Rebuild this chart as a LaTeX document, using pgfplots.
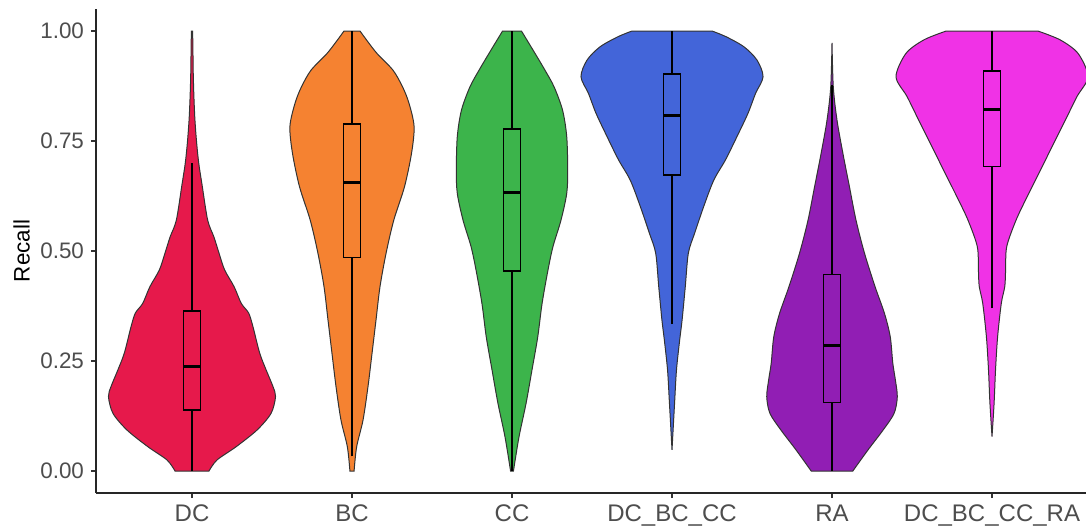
\documentclass[border=0pt]{standalone}
\usepackage{fontspec}
\setmainfont{Liberation Sans}
\usepackage{pgfplots}
\usepackage{pgfplotstable}
\pgfplotsset{compat=1.18}
\usepgfplotslibrary{fillbetween}

\definecolor{cDC}{HTML}{E6194B}
\definecolor{cBC}{HTML}{F58231}
\definecolor{cCC}{HTML}{3CB44B}
\definecolor{cDBC}{HTML}{4365D9}
\definecolor{cRA}{HTML}{911EB4}
\definecolor{cALL}{HTML}{F032E6}
\definecolor{tickgray}{HTML}{4D4D4D}
\definecolor{vline}{HTML}{333333}

% violin half-widths (w, in category units) against Recall (y)
\pgfplotstableread{
y w
0.000 0.106
0.025 0.156
0.055 0.275
0.093 0.406
0.131 0.494
0.169 0.522
0.192 0.506
0.230 0.463
0.268 0.423
0.328 0.381
0.359 0.354
0.381 0.308
0.419 0.263
0.457 0.204
0.495 0.169
0.532 0.137
0.570 0.098
0.650 0.063
0.700 0.042
0.750 0.028
0.800 0.018
0.850 0.012
0.900 0.008
0.950 0.006
1.000 0.004
}\tDC

\pgfplotstableread{
y w
0.000 0.013
0.055 0.029
0.116 0.069
0.192 0.100
0.267 0.125
0.343 0.150
0.419 0.175
0.495 0.213
0.570 0.261
0.646 0.328
0.722 0.372
0.783 0.388
0.836 0.356
0.873 0.316
0.911 0.256
0.949 0.156
0.980 0.090
1.000 0.050
}\tBC

\pgfplotstableread{
y w
0.000 0.009
0.078 0.044
0.154 0.088
0.230 0.125
0.305 0.161
0.381 0.188
0.457 0.225
0.510 0.256
0.570 0.306
0.631 0.342
0.684 0.348
0.760 0.342
0.820 0.316
0.873 0.263
0.911 0.206
0.949 0.144
1.000 0.059
}\tCC

\pgfplotstableread{
y w
0.048 0.000
0.154 0.016
0.230 0.028
0.298 0.048
0.343 0.063
0.419 0.083
0.495 0.102
0.540 0.141
0.601 0.198
0.661 0.261
0.707 0.334
0.760 0.406
0.813 0.475
0.858 0.522
0.896 0.569
0.934 0.531
0.964 0.450
0.987 0.338
1.000 0.250
}\tDBC

\pgfplotstableread{
y w
0.000 0.130
0.048 0.225
0.093 0.319
0.131 0.388
0.169 0.408
0.207 0.396
0.245 0.380
0.305 0.364
0.358 0.328
0.419 0.269
0.495 0.203
0.570 0.150
0.646 0.109
0.722 0.068
0.798 0.031
0.873 0.008
0.973 0.000
}\tRA

\pgfplotstableread{
y w
0.078 0.000
0.154 0.013
0.230 0.022
0.305 0.035
0.381 0.058
0.420 0.080
0.457 0.085
0.510 0.092
0.570 0.150
0.623 0.219
0.684 0.303
0.737 0.375
0.798 0.459
0.851 0.531
0.896 0.600
0.949 0.538
0.980 0.425
1.000 0.286
}\tALL

\newcommand{\violin}[3]{% center, table, colour
  \addplot[draw=none, smooth, tension=0.5, name path=L#1] table[x expr={#1-\thisrow{w}}, y=y] {#2};
  \addplot[draw=none, smooth, tension=0.5, name path=R#1] table[x expr={#1+\thisrow{w}}, y=y] {#2};
  \addplot[fill=#3, draw=vline, line width=0.5pt] fill between[of=L#1 and R#1, reverse=true];
}
\newcommand{\bx}[7]{% center, colour, lo whisker, q1, median, q3, hi whisker
  \addplot[black, line width=0.7pt] coordinates {(#1,#3) (#1,#7)};
  \addplot[black, line width=0.7pt, fill=#2] coordinates {(#1-0.052,#4) (#1+0.052,#4) (#1+0.052,#6) (#1-0.052,#6)} -- cycle;
  \addplot[black, line width=1.6pt] coordinates {(#1-0.052,#5) (#1+0.052,#5)};
}

\begin{document}
\begin{tikzpicture}
\begin{axis}[
  scale only axis, width=496pt, height=242pt,
  xmin=-0.6, xmax=5.6, ymin=-0.05, ymax=1.05,
  axis x line*=bottom, axis y line*=left,
  axis line style={-, line width=0.6pt, black!85},
  xtick={0,1,2,3,4,5},
  xticklabels={DC,BC,CC,DC\_BC\_CC,RA,DC\_BC\_CC\_RA},
  ytick={0,0.25,0.5,0.75,1},
  yticklabels={0.00,0.25,0.50,0.75,1.00},
  tick align=outside, major tick length=2.5pt,
  tick style={line width=0.6pt, black!80},
  ticklabel style={text=tickgray},
  yticklabel style={font=\fontsize{11.2}{13}\selectfont},
  xticklabel style={font=\fontsize{12}{14}\selectfont},
  /pgf/number format/assume math mode=true,
  ylabel={Recall},
  ylabel style={at={(axis description cs:-0.075,0.5)}, anchor=center, font=\fontsize{11.2}{13}\selectfont},
]
\violin{0}{\tDC}{cDC}
\violin{1}{\tBC}{cBC}
\violin{2}{\tCC}{cCC}
\violin{3}{\tDBC}{cDBC}
\violin{4}{\tRA}{cRA}
\violin{5}{\tALL}{cALL}
\bx{0}{cDC}{0}{0.139}{0.237}{0.364}{0.70}
\bx{1}{cBC}{0.033}{0.485}{0.656}{0.789}{1}
\bx{2}{cCC}{0}{0.455}{0.633}{0.777}{1}
\bx{3}{cDBC}{0.334}{0.673}{0.808}{0.902}{1}
\bx{4}{cRA}{0}{0.156}{0.286}{0.447}{0.877}
\bx{5}{cALL}{0.370}{0.692}{0.822}{0.909}{1}
\coordinate (BL) at (rel axis cs:0,0);
\coordinate (TR) at (rel axis cs:1,1);
\end{axis}
\pgfresetboundingbox
\path[use as bounding box] ([xshift=-48pt,yshift=-16.5pt]BL) rectangle ([xshift=-1pt,yshift=4.5pt]TR);
\end{tikzpicture}
\end{document}
